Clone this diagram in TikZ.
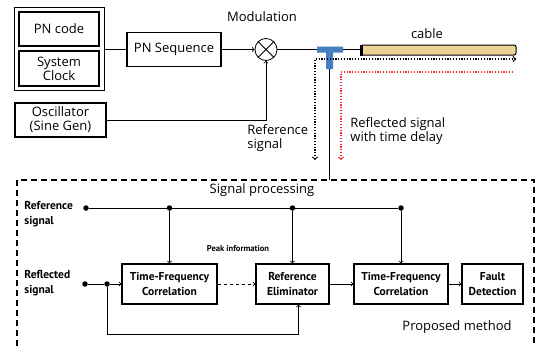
\documentclass[tikz,border=0pt]{standalone}
\usepackage{fontspec}
\setmainfont{Open Sans}
\newfontfamily\ptsans{PT Sans}
\definecolor{teeblue}{RGB}{70,125,190}
\definecolor{cabletan}{RGB}{236,210,150}
\begin{document}
\begin{tikzpicture}[x=1pt, y=-1pt, line width=0.8pt,
    block/.style={draw, line width=1.2pt, align=center, inner sep=1pt, font=\fontsize{13}{14}\selectfont},
    sblock/.style={draw, line width=1.3pt, align=center, inner sep=1pt, minimum height=40, font=\ptsans\bfseries\fontsize{11.5}{14.5}\selectfont},
    lbl/.style={align=left, inner sep=0pt, font=\fontsize{13}{14}\selectfont},
    blbl/.style={align=left, anchor=west, inner sep=0pt, font=\ptsans\bfseries\fontsize{11.5}{15}\selectfont},
    dot/.style={circle, fill, inner sep=0pt, minimum size=5.5pt},
    dots/.style={line width=1.2pt, dash pattern=on 1.2pt off 1.6pt}]
    \useasboundingbox (0,0) rectangle (538,346);

    % signal generation
    \node[draw, line width=1pt, minimum width=90, minimum height=83] (src) at (59,48.5) {};
    \node[block, minimum width=80, minimum height=34] (pncode) at (59,29) {PN code};
    \node[block, minimum width=80, minimum height=35] (clock) at (59,68.5) {System\\Clock};
    \node[block, minimum width=94, minimum height=34] (pnseq) at (174,49.5) {PN Sequence};
    \node[block, minimum width=91, minimum height=34] (osc) at (60.5,120) {Oscillator\\(Sine Gen)};
    \node[draw, circle, minimum size=22, inner sep=0pt] (mix) at (266,49.5) {};
    \draw (mix.north west) -- (mix.south east) (mix.north east) -- (mix.south west);

    \node[lbl] (modlbl) at (262,17) {Modulation};
    \node[lbl, anchor=west] (reflbl) at (247,138) {Reference\\signal};

    \draw (src.east |- pnseq) -- (pnseq);
    \draw[->] (pnseq) -- (mix);
    \draw[->] (osc) -| (mix);

    % tee and cable
    \fill[teeblue] (317,46.5) rectangle (343,52.5) (326,52.5) rectangle (333,69);
    \coordinate (teeL) at (317,49.5);
    \coordinate (teeR) at (343,49.5);
    \coordinate (teeB) at (329.5,69);
    \node[draw, line width=1pt, fill=cabletan, rounded corners=2pt, minimum width=155, minimum height=10, inner sep=0pt] (cable) at (438.5,50) {};
    \draw[line width=2.5pt] ([xshift=1pt]cable.north west) -- ([xshift=1pt]cable.south west);
    \node[lbl] (cablelbl) at (427,34) {cable};
    \draw (mix) -- (teeL);
    \draw (teeR) -- (teeR -| cable.west);

    \coordinate (txdown) at (315,160);
    \coordinate (txend) at (516,59);
    \coordinate (rxstart) at (513,72);
    \coordinate (rxdown) at (341,160);
    \draw[dots, <->] (txdown) |- (txend);
    \draw[red!85, dots, ->] (rxstart) -| (rxdown);
    \node[lbl, anchor=west] (dlylbl) at (350,131) {Reflected signal\\with time delay};

    \coordinate (sp) at (329.5,180);
    \draw (teeB) -- (sp);

    % signal processing
    \draw[line width=1.2pt, dash pattern=on 6pt off 4pt] (17,346) |- (534,180) -- (534,346);
    \node[lbl] (splbl) at (262,190) {Signal processing};
    \node[lbl] (pmlbl) at (457,327) {Proposed method};

    \node[blbl] (refsig) at (24,214) {Reference\\signal};
    \node[blbl] (reflsig) at (24,283) {Reflected\\signal};

    \node[sblock, minimum width=95] (tfc1) at (169.5,284) {Time-Frequency\\Correlation};
    \node[sblock, minimum width=73] (elim) at (292.5,284) {Reference\\Eliminator};
    \node[sblock, minimum width=94] (tfc2) at (401,284) {Time-Frequency\\Correlation};
    \node[sblock, minimum width=61] (fd) at (492.5,284) {Fault\\Detection};

    \node[dot] (refin) at (86,208) {};
    \node[dot] (reflin) at (85,284) {};
    \node[dot] (split) at (107,284) {};
    \foreach \b/\n in {tfc1/1, elim/2, tfc2/3}{
        \node[dot] (tap\n) at (\b |- refin) {};
        \draw[->] (tap\n) -- (\b);
    }
    \draw (refin) -- (tap3);
    \draw (reflin) -- (split);
    \draw[->] (split) -- (tfc1);
    \draw[->, dashed] (tfc1) -- (elim);
    \draw[->] (elim) -- (tfc2);
    \draw[->] (tfc2) -- (fd);
    \coordinate (loop) at (107,334);
    \draw[->] (split) -- (loop) -| ([xshift=6pt]elim.south);
    \node[font=\ptsans\bfseries\fontsize{8.5}{10}\selectfont, inner sep=0pt] (peak) at (238,249) {Peak information};
\end{tikzpicture}
\end{document}
